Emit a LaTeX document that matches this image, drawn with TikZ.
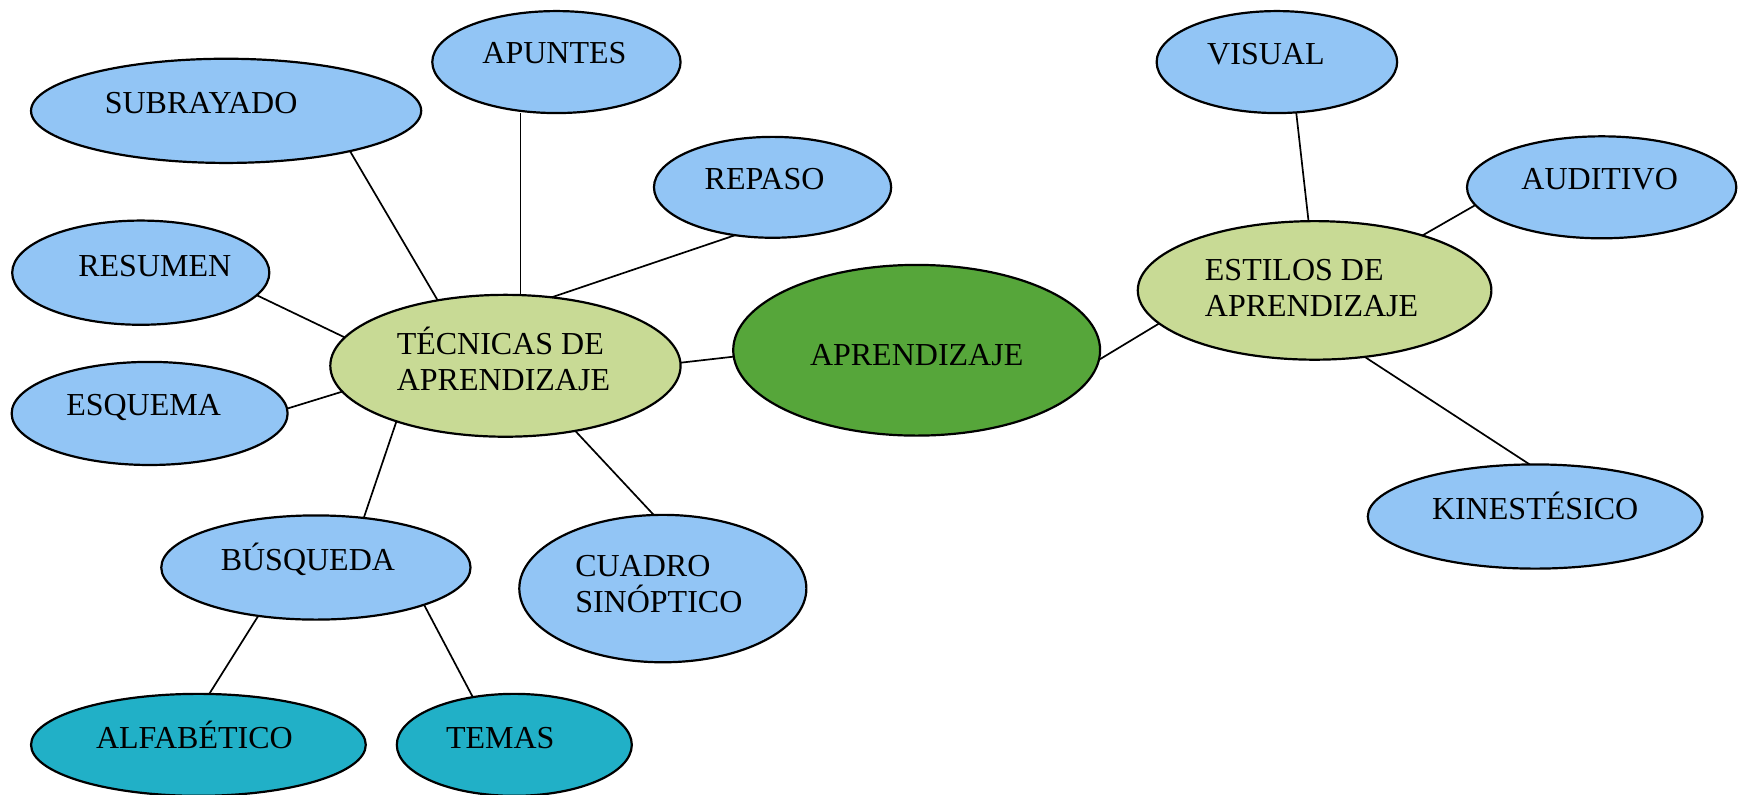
\documentclass[tikz,border=0pt]{standalone}
\usepackage{fontspec}
\setmainfont{Liberation Serif}
\usetikzlibrary{shapes.geometric}
\definecolor{cblue}{HTML}{92C5F5}
\definecolor{cpale}{HTML}{C8DA95}
\definecolor{cgreen}{HTML}{56A63A}
\definecolor{cteal}{HTML}{21B0C7}
\begin{document}
\begin{tikzpicture}[x=1.1084pt,y=-1.1084pt,
  bub/.style={ellipse, draw=black, line width=2.2pt, inner sep=0pt, outer sep=0pt},
  sz/.style 2 args={minimum width=#1*1.1084pt, minimum height=#2*1.1084pt},
  txt/.style={font=\fontsize{32}{36.6}\selectfont, inner sep=0pt, text height=21pt, text depth=0pt},
  txttwo/.style={txt, align=left, text depth=36.6pt},
  link/.style={line width=1.7pt}]
\useasboundingbox (0,0) rectangle (1568,717);

\node[bub,fill=cblue,sz={224}{92},label={[txt,xshift=-2pt,yshift=9pt]center:APUNTES}] (apu) at (502,56) {};
\node[bub,fill=cblue,sz={352}{94},label={[txt,xshift=-25pt,yshift=8pt]center:SUBRAYADO}] (sub) at (204,100) {};
\node[bub,fill=cblue,sz={214}{91},label={[txt,xshift=-8pt,yshift=8pt]center:REPASO}] (rep) at (697,169) {};
\node[bub,fill=cblue,sz={232}{94},label={[txt,xshift=14pt,yshift=7pt]center:RESUMEN}] (res) at (127,246) {};
\node[bub,fill=cblue,sz={249}{93},label={[txt,xshift=-6pt,yshift=8pt]center:ESQUEMA}] (esq) at (135,373) {};
\node[bub,fill=cpale,sz={316}{128},label={[txttwo,xshift=-2pt,yshift=-33pt]center:{TÉCNICAS DE\\APRENDIZAJE}}] (tec) at (456,330) {};
\node[bub,fill=cgreen,sz={331}{154},label={[txt,xshift=0pt,yshift=-5pt]center:APRENDIZAJE}] (apr) at (827,316) {};
\node[bub,fill=cpale,sz={319}{125},label={[txttwo,xshift=-3pt,yshift=-34pt]center:{ESTILOS DE\\APRENDIZAJE}}] (est) at (1186,262) {};
\node[bub,fill=cblue,sz={217}{92},label={[txt,xshift=-11pt,yshift=8pt]center:VISUAL}] (vis) at (1152,56) {};
\node[bub,fill=cblue,sz={243}{92},label={[txt,xshift=-2pt,yshift=8pt]center:AUDITIVO}] (aud) at (1445,169) {};
\node[bub,fill=cblue,sz={302}{94},label={[txt,xshift=0pt,yshift=8pt]center:KINESTÉSICO}] (kin) at (1385,466) {};
\node[bub,fill=cblue,sz={279}{94},label={[txt,xshift=-8pt,yshift=8pt]center:BÚSQUEDA}] (bus) at (285,512) {};
\node[bub,fill=cblue,sz={259}{133},label={[txttwo,xshift=-4pt,yshift=-32pt]center:{CUADRO\\SINÓPTICO}}] (cua) at (598,531) {};
\node[bub,fill=cteal,sz={302}{92},label={[txt,xshift=-4pt,yshift=7pt]center:ALFABÉTICO}] (alf) at (179,672) {};
\node[bub,fill=cteal,sz={212}{92},label={[txt,xshift=-14pt,yshift=7pt]center:TEMAS}] (tem) at (464,672) {};

\draw[link] (sub.-18) -- (tec.136);
\draw[link] (tec.78.5) -- (tec.78.5 |- apu.south);
\draw[link] (rep.-128) -- (tec.56.7);
\draw[link] (res.-11) -- (tec.170.5);
\draw[link] (esq.2.3) -- (tec.189.8);
\draw[link] (tec.1.1) -- (apr.182.8);
\draw[link] (bus.46) -- (tec.207.5);
\draw[link] (cua.97) -- (tec.-43);
\draw[link] (alf.78.7) -- (bus.220);
\draw[link] (tem.131) -- (bus.-19);
\draw[link] (apr.-3) -- (est.192.3);
\draw[link] (vis.-69) -- (est.95.5);
\draw[link] (aud.188) -- (est.27.8);
\draw[link] (kin.96) -- (est.-53);
\end{tikzpicture}
\end{document}
